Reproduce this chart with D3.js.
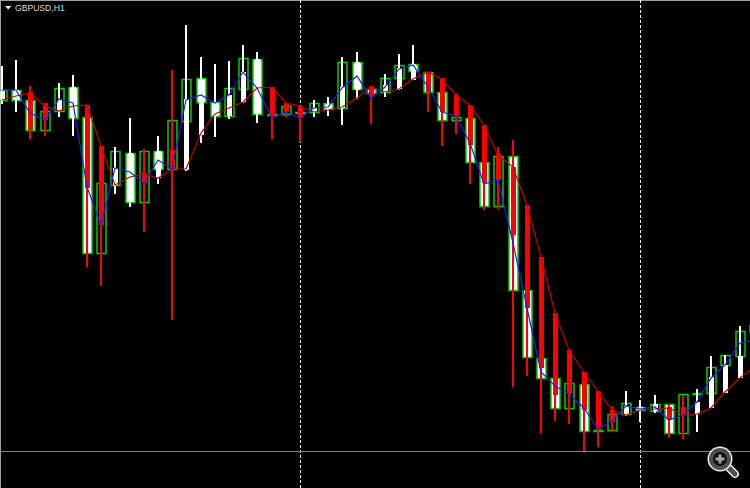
<!DOCTYPE html>
<html>
<head>
<meta charset="utf-8">
<script src="https://d3js.org/d3.v7.min.js"></script>
<style>
html, body { margin: 0; padding: 0; background: #000; overflow: hidden; }
svg { display: block; }
</style>
</head>
<body>
<div id="chart"></div>
<script>
// GBPUSD H1 - all prices are pips above 1.3000

// wide candles, green outline
const wideOpen = [400,410,400,370,389,413,383,247,315,347,298,349,331,379,422,398,384,411,441,386,386,387,388,397,392,438,411,408,422,436,428,408,380,382,338,294,344,210,142,122,92,116,70,70,86,93,89,96,67,106,107,135,144,169];
const wideClose = [410,400,370,389,412,382,247,317,349,298,349,331,380,421,398,384,412,442,386,385,394,388,397,391,438,411,407,422,435,429,408,380,383,338,294,344,210,143,122,92,117,69,69,86,97,90,96,67,106,107,133,145,169,175];

// narrow candles, white up and red down
const narrowHigh = [434,440,414,397,417,425,395,354,353,382,351,364,430,475,443,436,439,455,448,413,397,394,400,403,443,448,414,426,446,455,428,422,407,395,375,353,360,295,243,187,150,128,109,94,109,100,105,96,105,111,144,145,174,180];
const narrowLow = [396,388,361,364,383,364,233,214,306,293,268,316,180,329,357,363,381,397,377,361,383,358,383,384,375,401,376,403,410,420,388,354,366,316,290,291,113,124,67,79,76,49,53,68,84,78,87,62,61,68,92,107,122,130];
const narrowOpen = [400,400,408,397,389,382,395,354,315,298,327,322,350,330,365,384,384,398,386,413,397,394,388,391,392,410,414,408,411,420,428,422,405,395,375,346,333,295,243,187,150,128,109,90,85,90,89,93,93,86,92,107,122,140];
const narrowClose = [409,410,370,380,400,413,312,275,332,347,317,349,331,401,400,398,405,428,441,384,388,382,392,395,413,438,403,415,432,436,408,388,384,355,317,320,265,192,132,105,106,90,70,78,94,93,96,80,85,98,123,135,144,165];

// the two moving averages
const blueLine = [410,410,387,380,401,397,313,275,332,328,317,340,331,400,405,397,405,428,412,382,388,382,392,393,412,424,402,413,431,435,413,388,384,357,316,320,257,192,128,114,106,92,71,79,94,91,93,80,85,98,122,135,157,160];
const redLine = [400,404,407,394,389,394,395,354,315,323,326,322,331,331,367,386,392,398,412,413,397,394,388,390,393,402,413,408,411,421,428,421,405,395,375,345,333,295,243,187,150,128,109,90,85,90,91,92,85,86,92,108,122,133];

// day separators (bar index) and the bid line
const separators = [21, 45];
const bidLevel = 49;
const chartTitle = "GBPUSD,H1";

const width = 750;
const height = 488;
const bars = d3.range(wideOpen.length);

const x = d3.scaleLinear().domain([0, 53]).range([2, 753.8]);
const y = d3.scaleLinear().domain([500, 12]).range([0, height]);
const px = i => Math.round(x(i));

const svg = d3.select("#chart").append("svg")
    .attr("width", width)
    .attr("height", height)
    .style("background", "#000");

// window frame
const frame = svg.append("g").attr("stroke", "#a0a0a0").attr("shape-rendering", "crispEdges");
frame.append("line").attr("x1", 0).attr("x2", width).attr("y1", 0.5).attr("y2", 0.5);
frame.append("line").attr("x1", 0.5).attr("x2", 0.5).attr("y1", 0).attr("y2", height);

// Separators
svg.append("g").selectAll("line")
    .data(separators)
    .enter().append("line")
    .attr("x1", d => px(d) + 0.5)
    .attr("x2", d => px(d) + 0.5)
    .attr("y1", 0)
    .attr("y2", height)
    .attr("stroke", "#fff")
    .attr("stroke-dasharray", "3,2")
    .attr("shape-rendering", "crispEdges");

// Bid line
svg.append("line")
    .attr("x1", 0)
    .attr("x2", width)
    .attr("y1", Math.round(y(bidLevel)) + 0.5)
    .attr("y2", Math.round(y(bidLevel)) + 0.5)
    .attr("stroke", "#80808c")
    .attr("stroke-width", 1.2);

// Wide candles
svg.append("g").selectAll("rect")
    .data(bars)
    .enter().append("rect")
    .attr("x", i => px(i) - 4)
    .attr("y", i => Math.round(y(Math.max(wideOpen[i], wideClose[i]))) + 0.5)
    .attr("width", 9)
    .attr("height", i => Math.abs(y(wideOpen[i]) - y(wideClose[i])))
    .attr("fill", i => wideClose[i] > wideOpen[i] ? "#000" : "#fff")
    .attr("stroke", "#00d000")
    .attr("stroke-width", 1.5);

// Narrow candles
const narrowColor = i => narrowClose[i] > narrowOpen[i] ? "#fff" : "#ff0000";

svg.append("g").selectAll("rect")
    .data(bars)
    .enter().append("rect")
    .attr("x", i => px(i) - 1)
    .attr("y", i => y(narrowHigh[i]))
    .attr("width", 2)
    .attr("height", i => y(narrowLow[i]) - y(narrowHigh[i]))
    .attr("fill", narrowColor)
    .attr("shape-rendering", "crispEdges");

svg.append("g").selectAll("rect")
    .data(bars)
    .enter().append("rect")
    .attr("x", i => px(i) - 2.5)
    .attr("y", i => y(Math.max(narrowOpen[i], narrowClose[i])))
    .attr("width", 5)
    .attr("height", i => Math.abs(y(narrowOpen[i]) - y(narrowClose[i])))
    .attr("fill", narrowColor)
    .attr("shape-rendering", "crispEdges");

// Moving averages
const lineGen = d3.line().x((d, i) => px(i)).y(d => y(d));

svg.append("path")
    .attr("d", lineGen(redLine))
    .attr("fill", "none")
    .attr("stroke", "#c80000")
    .attr("stroke-width", 1.2);

svg.append("path")
    .attr("d", lineGen(blueLine))
    .attr("fill", "none")
    .attr("stroke", "#1c1cff")
    .attr("stroke-width", 1.2);

// Title
svg.append("path")
    .attr("d", "M5,6 L11.5,6 L8.2,9.5 Z")
    .attr("fill", "#f0f0f0");

svg.append("text")
    .attr("x", 15)
    .attr("y", 11)
    .attr("font-family", "Liberation Sans")
    .attr("font-size", "8.6px")
    .attr("fill", "#d8d8d8")
    .text(chartTitle);

// Magnifier icon
const icon = svg.append("g").attr("fill", "none").attr("stroke-linecap", "round");
icon.append("line").attr("x1", 728).attr("y1", 467).attr("x2", 735).attr("y2", 474).attr("stroke", "#efefef").attr("stroke-width", 8);
icon.append("line").attr("x1", 728).attr("y1", 467).attr("x2", 735).attr("y2", 474).attr("stroke", "#505050").attr("stroke-width", 5);
icon.append("circle").attr("cx", 720).attr("cy", 459).attr("r", 12.5).attr("fill", "#efefef");
icon.append("circle").attr("cx", 720).attr("cy", 459).attr("r", 9).attr("stroke", "#505050").attr("stroke-width", 4).attr("fill", "#101010");
icon.append("path").attr("d", "M720,454.5 V463.5 M715.5,459 H724.5").attr("stroke", "#a8a8a8").attr("stroke-width", 3).attr("stroke-linecap", "butt");
</script>
</body>
</html>
